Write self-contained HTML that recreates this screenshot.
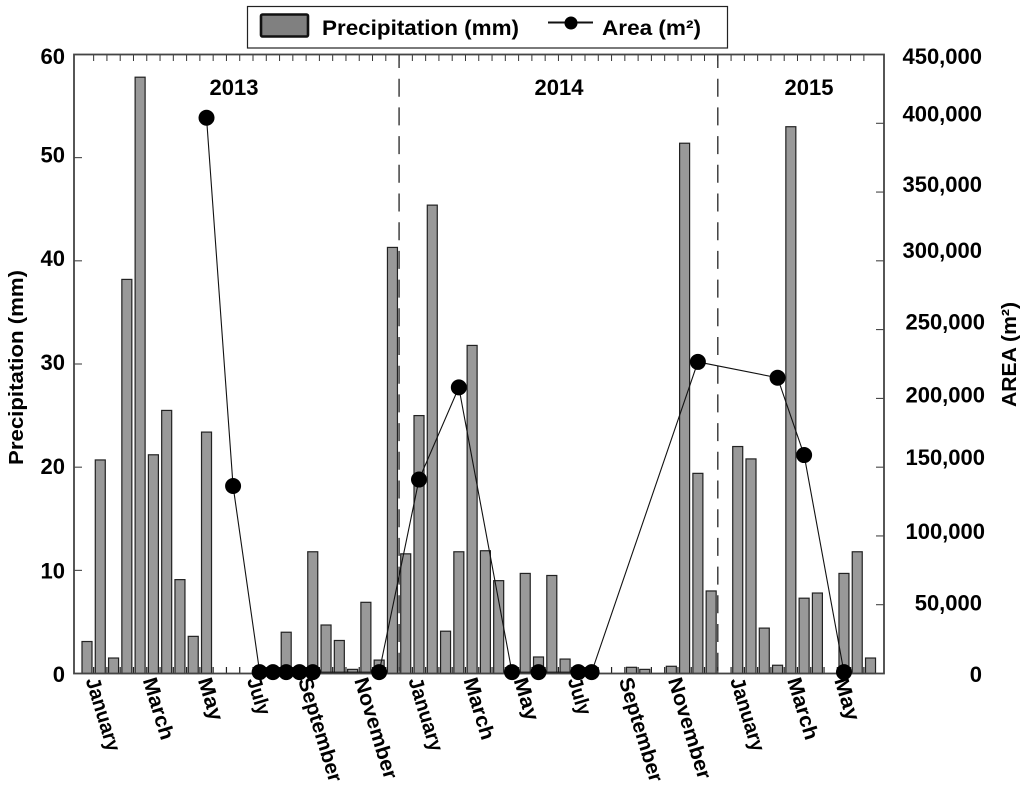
<!DOCTYPE html>
<html lang="en">
<head>
<meta charset="utf-8">
<title>Precipitation and Area</title>
<style>
html,body{margin:0;padding:0;background:#fff;}
svg{display:block;}
text{font-family:"Liberation Sans",sans-serif;font-weight:bold;fill:#000;}
</style>
</head>
<body>
<svg id="chart" xmlns="http://www.w3.org/2000/svg" width="1024" height="792" viewBox="0 0 1024 792">
  <g id="dividers"></g>
  <g id="bars"></g>
  <g id="ticks"></g>
  <rect x="74" y="54.5" width="810" height="619" fill="none" stroke="#444" stroke-width="1.8"/>
  <g id="line"></g>
  <g id="labels"></g>

  <text x="234" y="95" font-size="22" text-anchor="middle">2013</text>
  <text x="559" y="95" font-size="22" text-anchor="middle">2014</text>
  <text x="809" y="95" font-size="22" text-anchor="middle">2015</text>

  <text transform="translate(23,465) rotate(-90)" font-size="20" textLength="195" lengthAdjust="spacingAndGlyphs">Precipitation (mm)</text>
  <text transform="translate(1016,407) rotate(-90)" font-size="20" textLength="105" lengthAdjust="spacingAndGlyphs">AREA (m²)</text>

  <g>
    <rect x="247.5" y="6.5" width="480" height="41.5" fill="#fff" stroke="#222" stroke-width="1.2"/>
    <rect x="261" y="14.5" width="47" height="22" rx="1.5" fill="#808080" stroke="#111" stroke-width="2.6"/>
    <text x="322" y="35" font-size="21" textLength="197" lengthAdjust="spacingAndGlyphs">Precipitation (mm)</text>
    <line x1="548" y1="22.5" x2="593" y2="22.5" stroke="#111" stroke-width="2"/>
    <circle cx="571" cy="23" r="6.5" fill="#000"/>
    <text x="602" y="35" font-size="21" textLength="99" lengthAdjust="spacingAndGlyphs">Area (m²)</text>
  </g>
</svg>
<script>
var precipitation = [3.1,20.7,1.5,38.2,57.8,21.2,25.5,9.1,3.6,23.4,0,0,0,0,0,4.0,0,11.8,4.7,3.2,0.4,6.9,1.3,41.3,11.6,25,45.4,4.1,11.8,31.8,11.9,9,0,9.7,1.6,9.5,1.4,0,0,0,0,0.6,0.4,0,0.7,51.4,19.4,8,0,22,20.8,4.4,0.8,53,7.3,7.8,0,9.7,11.8,1.5];
var area = [null,null,null,null,null,null,null,null,null,404000,null,136300,null,1000,1000,1000,1000,1000,null,null,null,null,1000,null,null,141000,null,null,208000,null,null,null,1000,null,1000,null,null,1000,1000,null,null,null,null,null,null,null,226500,null,null,null,null,null,215000,null,158800,null,null,1000,null,null];
var monthLabels = ["January","March","May","July","September","November","January","March","May","July","September","November","January","March","May"];
var leftTicks = [0,10,20,30,40,50,60];
var rightTicks = [0,50000,100000,150000,200000,250000,300000,350000,400000,450000];
var yearBoundaries = [24,48];

var NS = "http://www.w3.org/2000/svg";
var plotLeft = 74, plotRight = 884, plotTop = 54.5, plotBottom = 673.5;
var monthStep = 4;

function xCenter(i){ return 87 + 13.28 * i; }
function xEdge(i){ return xCenter(i) - 6.64; }
function yLeft(v){ return plotBottom - (v / 60) * (plotBottom - plotTop); }
function yRight(v){ return plotBottom - (v / 450000) * (plotBottom - plotTop); }
function make(tag, parentId, attrs, text){
  var el = document.createElementNS(NS, tag);
  for (var k in attrs) el.setAttribute(k, attrs[k]);
  if (text !== undefined) el.textContent = text;
  document.getElementById(parentId).appendChild(el);
  return el;
}
function fmt(v){ return String(v).replace(/\B(?=(\d{3})+(?!\d))/g, ","); }

/* year dividers */
yearBoundaries.forEach(function(b){
  var el = make("line", "dividers", {x1:xEdge(b), x2:xEdge(b), y1:plotTop, y2:plotBottom, stroke:"#333", "stroke-width":1.4, "stroke-dasharray":"18 10.7", "stroke-dashoffset":4.5});
  
  
});

/* bars */
precipitation.forEach(function(v, i){
  if (!v) return;
  var y = yLeft(v);
  var el = make("rect", "bars", {x:xCenter(i) - 5, y:y, width:10, height:plotBottom - y, fill:"#999", stroke:"#222", "stroke-width":1.2});
  
  
});

/* top and bottom ticks */
for (var t = 1; t < precipitation.length; t++) {
  var topTick = make("line", "ticks", {x1:xEdge(t), x2:xEdge(t), y1:plotTop, y2:plotTop + 6.5, stroke:"#333", "stroke-width":1});
  
  
  var bottomTick = make("line", "ticks", {x1:xEdge(t), x2:xEdge(t), y1:plotBottom, y2:plotBottom - 6.5, stroke:"#222", "stroke-width":1.2});
  
  
}

/* left axis */
var leftNudge = [0.5,0,-1,-2,-3,-3,1.5];
leftTicks.forEach(function(v, i){
  var y = yLeft(v);
  if (i > 0 && i < leftTicks.length - 1) {
    var tick = make("line", "ticks", {x1:plotLeft, x2:plotLeft + 8, y1:y, y2:y, stroke:"#333", "stroke-width":1});
    
    
  }
  var label = make("text", "labels", {x:65, y:y + leftNudge[i] + 8, "font-size":22, "text-anchor":"end"}, String(v));
  
  
});

/* right axis */
var rightNudge = [0.5,-2,-5,-10,-4,-8,-11,-8,-10,1.5];
var rightShift = [0,0,3,3,3,3,0,0,0,0];
rightTicks.forEach(function(v, i){
  var y = yRight(v);
  if (i > 0 && i < rightTicks.length - 1) {
    var tick = make("line", "ticks", {x1:plotRight, x2:plotRight - 8, y1:y, y2:y, stroke:"#333", "stroke-width":1});
    
    
  }
  var label = make("text", "labels", {x:982 + rightShift[i], y:y + rightNudge[i] + 8, "font-size":22, "text-anchor":"end"}, fmt(v));
  
  
});

/* x labels */
var xNudge = [-1.5,2.5,4.5,0.5,-1.5,1.5,2.5,4.5,1.5,2.5,0.5,-3.5,5.5,9.5,3.5];
var labelLength = {January:76, March:64, May:44, July:38, September:108, November:105};
monthLabels.forEach(function(name, i){
  var x = xCenter(i * monthStep) + xNudge[i], y = 680;
  var label = make("text", "labels", {transform:"translate(" + x + "," + y + ") rotate(73)", "font-size":20.5, textLength:labelLength[name], lengthAdjust:"spacingAndGlyphs"}, name);
  
  
});

/* area line and markers */
var pts = [];
area.forEach(function(v, i){ if (v !== null) pts.push([xCenter(i), yRight(v)]); });
var poly = make("polyline", "line", {points:pts.map(function(p){ return p[0] + "," + p[1]; }).join(" "), fill:"none", stroke:"#111", "stroke-width":1.1});


pts.forEach(function(p){
  var c = make("circle", "line", {cx:p[0], cy:p[1], r:8, fill:"#000"});
  
  
});
</script>
</body>
</html>
